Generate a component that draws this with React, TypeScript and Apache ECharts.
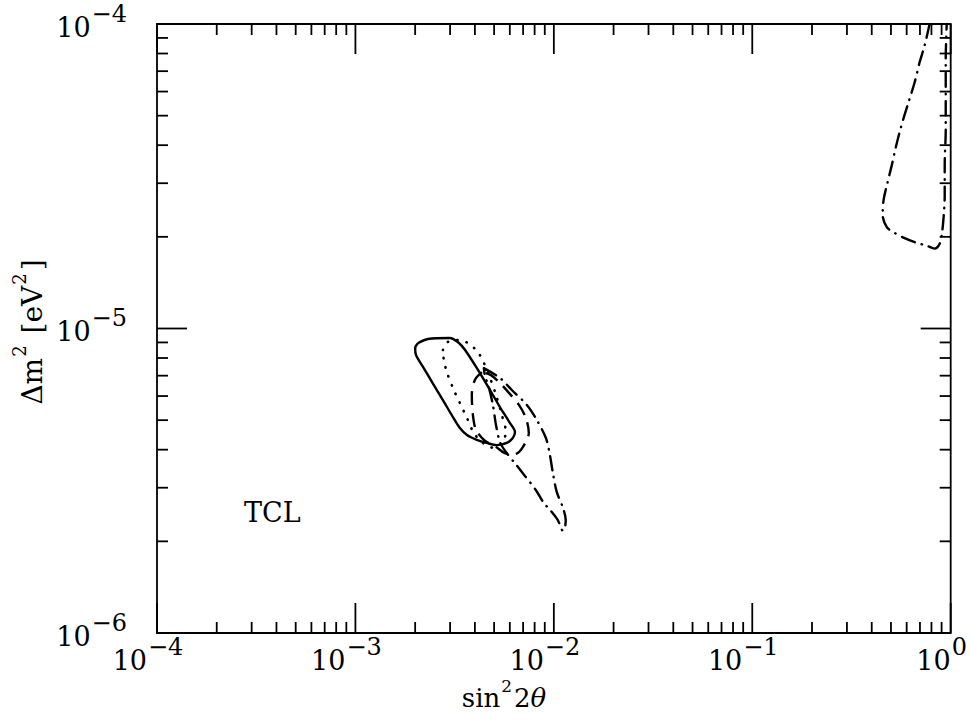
import React, { useEffect, useRef } from "react";
import * as echarts from "echarts";

// Axis ranges and tick labels
const X_MIN = 1e-4;
const X_MAX = 1;
const Y_MIN = 1e-6;
const Y_MAX = 1e-4;
const xMajorTicks = [1e-4, 1e-3, 1e-2, 1e-1, 1];
const yMajorTicks = [1e-6, 1e-5, 1e-4];
const minorMantissas = [2, 3, 4, 5, 6, 7, 8, 9];

// Contours: [sin^2 2θ, Δm^2 (eV^2)]
const solidContour: [number, number][] = [
  [2.07e-3, 8.96e-6], [2.32e-3, 9.24e-6], [2.99e-3, 9.31e-6], [3.28e-3, 9.03e-6],
  [3.57e-3, 8.5e-6], [4.24e-3, 7.14e-6], [4.77e-3, 6.28e-6], [5.35e-3, 5.52e-6],
  [6.0e-3, 4.9e-6], [6.37e-3, 4.57e-6], [6.21e-3, 4.37e-6], [5.79e-3, 4.21e-6],
  [5.16e-3, 4.14e-6], [4.59e-3, 4.21e-6], [4.09e-3, 4.31e-6], [3.65e-3, 4.47e-6],
  [3.36e-3, 4.71e-6], [3.1e-3, 5.12e-6], [2.76e-3, 5.82e-6], [2.45e-3, 6.62e-6],
  [2.19e-3, 7.48e-6], [2.02e-3, 8.18e-6], [2.0e-3, 8.63e-6], [2.07e-3, 8.96e-6],
];

const dottedContour: [number, number][] = [
  [2.76e-3, 8.5e-6], [2.92e-3, 9.03e-6], [3.28e-3, 9.16e-6], [3.69e-3, 8.96e-6],
  [4.14e-3, 8.37e-6], [4.44e-3, 7.71e-6], [4.77e-3, 6.88e-6], [5.11e-3, 6.05e-6],
  [5.47e-3, 5.2e-6], [5.73e-3, 4.57e-6], [5.47e-3, 4.21e-6], [4.93e-3, 4.06e-6],
  [4.39e-3, 4.21e-6], [3.95e-3, 4.54e-6], [3.65e-3, 5.08e-6], [3.36e-3, 5.69e-6],
  [3.1e-3, 6.38e-6], [2.89e-3, 7.19e-6], [2.79e-3, 7.88e-6], [2.76e-3, 8.5e-6],
];

const dashedContour: [number, number][] = [
  [4.34e-3, 7.19e-6], [4.0e-3, 6.78e-6], [3.86e-3, 6.05e-6], [3.91e-3, 5.2e-6],
  [4.05e-3, 4.65e-6], [4.49e-3, 4.28e-6], [5.05e-3, 4.11e-6], [5.66e-3, 3.9e-6],
  [6.37e-3, 3.87e-6], [6.98e-3, 4.08e-6], [7.48e-3, 4.54e-6], [7.23e-3, 5.08e-6],
  [6.67e-3, 5.61e-6], [6.0e-3, 6.1e-6], [5.35e-3, 6.62e-6], [4.82e-3, 7.03e-6],
  [4.34e-3, 7.19e-6],
];

const dashDotContour: [number, number][] = [
  [4.44e-3, 7.41e-6], [5.35e-3, 6.88e-6], [6.14e-3, 6.28e-6], [7.31e-3, 5.61e-6],
  [8.2e-3, 5.01e-6], [9.12e-3, 4.37e-6], [9.55e-3, 3.85e-6], [9.89e-3, 3.35e-6],
  [1.035e-2, 2.9e-6], [1.109e-2, 2.59e-6], [1.148e-2, 2.35e-6], [1.135e-2, 2.21e-6],
  [1.109e-2, 2.17e-6], [1.047e-2, 2.35e-6], [9.55e-3, 2.54e-6], [8.91e-3, 2.67e-6],
  [8.11e-3, 2.95e-6], [7.15e-3, 3.28e-6], [6.28e-3, 3.65e-6], [5.73e-3, 3.93e-6],
  [5.35e-3, 4.24e-6], [5.11e-3, 4.82e-6], [4.93e-3, 5.61e-6], [4.71e-3, 6.38e-6],
  [4.49e-3, 7.03e-6], [4.44e-3, 7.41e-6],
];

const dashDotUpper: [number, number][] = [
  [0.783, 1.0e-4], [0.74, 8.53e-5], [0.698, 7.5e-5], [0.659, 6.45e-5],
  [0.614, 5.55e-5], [0.579, 4.91e-5], [0.553, 4.42e-5], [0.528, 3.92e-5],
  [0.505, 3.44e-5], [0.477, 2.96e-5], [0.459, 2.64e-5], [0.454, 2.36e-5],
  [0.477, 2.15e-5], [0.522, 2.06e-5], [0.586, 1.98e-5], [0.659, 1.92e-5],
  [0.757, 1.87e-5], [0.83, 1.83e-5], [0.881, 1.9e-5], [0.902, 2.03e-5],
  [0.923, 2.36e-5], [0.933, 2.74e-5], [0.933, 3.44e-5], [0.944, 4.49e-5],
  [0.944, 5.85e-5], [0.944, 7.62e-5], [0.955, 1.0e-4],
];

const annotationText = "TCL";
const FONT = "DejaVu Serif";

function expLabel(v: number): string {
  const e = Math.round(Math.log10(v));
  const s = e < 0 ? "\u2212" + String(-e) : String(e);
  return `{b|10}{e|${s}}`;
}

const labelRich = {
  b: { fontFamily: FONT, fontSize: 27, color: "#000", verticalAlign: "bottom", padding: [12, 0, 0, 0] },
  e: { fontFamily: FONT, fontSize: 24, color: "#000", verticalAlign: "top", padding: [0, 0, 12, 1] },
};

export default function App() {
  const ref = useRef<HTMLDivElement>(null);
  useEffect(() => {
    document.body.style.margin = "0";
    if (!ref.current) return;
    const chart = echarts.init(ref.current, undefined, { renderer: "svg" });

    const tickData: number[][] = [];
    xMajorTicks.forEach((v) => tickData.push([v, Y_MIN, 1]));
    yMajorTicks.forEach((v) => tickData.push([X_MIN, v, 3]));
    for (let d = -4; d < 0; d++) minorMantissas.forEach((m) => tickData.push([m * Math.pow(10, d), Y_MIN, 0]));
    for (let d = -6; d < -4; d++) minorMantissas.forEach((m) => tickData.push([X_MIN, m * Math.pow(10, d), 2]));

    const lineSeries = (data: [number, number][], type: any, width: number, cap: string = "butt") => ({
      type: "line",
      data,
      showSymbol: false,
      smooth: 0.3,
      silent: true,
      lineStyle: { color: "#000", width, type, cap, join: "round" },
      z: 3,
    });

    chart.setOption({
      animation: false,
      backgroundColor: "#fff",
      grid: { left: 157, top: 24, width: 794, height: 609, show: true, borderColor: "#000", borderWidth: 1.8, backgroundColor: "transparent" },
      xAxis: {
        type: "log",
        logBase: 10,
        min: X_MIN,
        max: X_MAX,
        axisLine: { show: false },
        axisTick: { show: false },
        splitLine: { show: false },
        axisLabel: { formatter: expLabel, rich: labelRich, margin: 2, padding: [0, 18, 0, 0] },
      },
      yAxis: {
        type: "log",
        logBase: 10,
        min: Y_MIN,
        max: Y_MAX,
        axisLine: { show: false },
        axisTick: { show: false },
        splitLine: { show: false },
        axisLabel: { formatter: expLabel, rich: labelRich, margin: 30, padding: [0, 0, 6, 0] },
      },
      series: [
        {
          type: "custom",
          silent: true,
          data: tickData,
          encode: { x: 0, y: 1 },
          clip: false,
          renderItem: (params: any, api: any) => {
            const x = api.value(0);
            const y = api.value(1);
            const kind = api.value(2);
            const len = kind % 2 === 1 ? 30 : 11;
            const style = { stroke: "#000", lineWidth: 1.8 };
            if (kind < 2) {
              const b = api.coord([x, Y_MIN]);
              const t = api.coord([x, Y_MAX]);
              return {
                type: "group",
                children: [
                  { type: "line", shape: { x1: b[0], y1: b[1], x2: b[0], y2: b[1] - len }, style },
                  { type: "line", shape: { x1: t[0], y1: t[1], x2: t[0], y2: t[1] + len }, style },
                ],
              };
            }
            const l = api.coord([X_MIN, y]);
            const r = api.coord([X_MAX, y]);
            return {
              type: "group",
              children: [
                { type: "line", shape: { x1: l[0], y1: l[1], x2: l[0] + len, y2: l[1] }, style },
                { type: "line", shape: { x1: r[0], y1: r[1], x2: r[0] - len, y2: r[1] }, style },
              ],
            };
          },
        },
        lineSeries(solidContour, "solid", 2.4),
        lineSeries(dottedContour, [0.5, 9], 2.6, "round"),
        lineSeries(dashedContour, [14, 8], 2.4),
        lineSeries(dashDotContour, [14, 7, 0.5, 7], 2.4, "round"),
        lineSeries(dashDotUpper, [14, 7, 0.5, 7], 2.4, "round"),
      ],
      graphic: [
        {
          type: "text",
          x: 504,
          y: 694,
          style: {
            text: "{n|sin}{s|2}{n|2}{t|θ}",
            align: "center",
            verticalAlign: "middle",
            rich: {
              n: { fontFamily: FONT, fontSize: 26, color: "#000", verticalAlign: "bottom", padding: [8, 0, 0, 0] },
              s: { fontFamily: FONT, fontSize: 17, color: "#000", verticalAlign: "top", padding: [0, 2, 8, 1] },
              t: { fontFamily: FONT, fontSize: 26, fontStyle: "italic", color: "#000", verticalAlign: "bottom", padding: [8, 0, 0, 0] },
            },
          },
        },
        {
          type: "text",
          x: 28,
          y: 332,
          rotation: Math.PI / 2,
          style: {
            text: "{n|Δm}{s|2}{n| [eV}{s|2}{n|]}",
            align: "center",
            verticalAlign: "middle",
            rich: {
              n: { fontFamily: FONT, fontSize: 28, color: "#000", verticalAlign: "bottom", padding: [8, 0, 0, 0] },
              s: { fontFamily: FONT, fontSize: 18, color: "#000", verticalAlign: "top", padding: [0, 3, 8, 1] },
            },
          },
        },
        {
          type: "text",
          x: 244,
          y: 512,
          style: { text: annotationText, fontFamily: FONT, fontSize: 27, fill: "#000", align: "left", verticalAlign: "middle" },
        },
      ],
    });
    return () => chart.dispose();
  }, []);
  return <div ref={ref} style={{ width: 970, height: 723 }} />;
}
